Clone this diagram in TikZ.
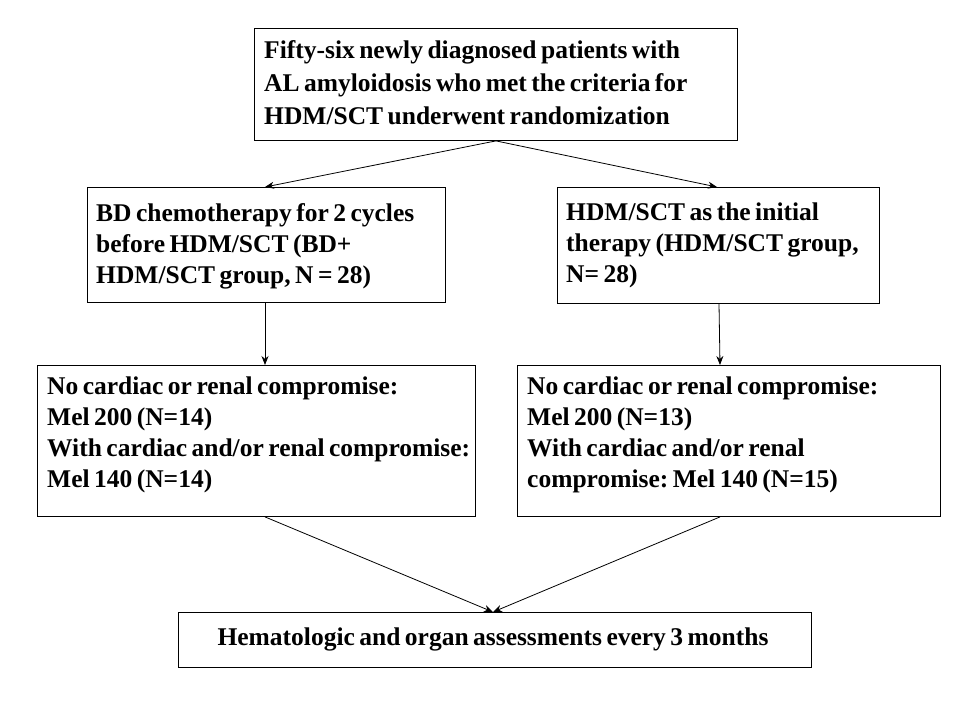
\documentclass[tikz,border=0pt]{standalone}
\usepackage{fontspec}
\setmainfont{Liberation Serif}[WordSpace=0.7]
\usetikzlibrary{arrows.meta}
\frenchspacing
\begin{document}
\begin{tikzpicture}[x=1pt,y=-1pt,
  box/.style={draw, line width=0.9pt, inner sep=0pt, anchor=north west},
  txt/.style={anchor=north west, inner sep=0pt, align=left, font=\fontsize{25.5}{31}\selectfont\bfseries},
  arr/.style={-{Stealth[length=9pt,width=7pt]}, line width=0.8pt}]
\useasboundingbox[fill=white] (0,0) rectangle (960,720);
% boxes
\node[box, minimum width=483pt, minimum height=112pt] (top) at (254,28) {};
\node[box, minimum width=358pt, minimum height=115pt] (lm) at (87,187) {};
\node[box, minimum width=322pt, minimum height=116pt] (rm) at (557,187) {};
\node[box, minimum width=438pt, minimum height=151pt] (ll) at (37,365) {};
\node[box, minimum width=423pt, minimum height=151pt] (rl) at (517,365) {};
\node[box, minimum width=633pt, minimum height=55pt] (bot) at (178,612) {};
% texts
\node[txt, font=\fontsize{25.5}{33}\selectfont\bfseries] (ttop) at (264,40) {Fifty-six newly diagnosed patients with\\AL amyloidosis who met the criteria for\\HDM/SCT underwent randomization};
\node[txt] (tlm) at (96,203) {BD chemotherapy for 2 cycles\\before HDM/SCT (BD+\\HDM/SCT group, N = 28)};
\node[txt] (trm) at (566,203) {HDM/SCT as the initial\\therapy (HDM/SCT group,\\N= 28)};
\node[txt] (tll) at (47,377) {No cardiac or renal compromise:\\Mel 200 (N=14)\\With cardiac and/or renal compromise:\\Mel 140 (N=14)};
\node[txt] (trl) at (527,377) {No cardiac or renal compromise:\\Mel 200 (N=13)\\With cardiac and/or renal\\compromise: Mel 140 (N=15)};
\node[anchor=center, inner sep=0pt, font=\fontsize{25.5}{31}\selectfont\bfseries] (tbot) at (493,639) {Hematologic and organ assessments every 3 months};
% connectors
\draw[arr] (top.south) -- (lm.north -| 265,0);
\draw[arr] (top.south) -- (rm.north -| 717,0);
\draw[arr] (lm.south -| 265,0) -- (ll.north -| 265,0);
\draw[arr] (rm.south -| 719,0) -- (rl.north -| 720,0);
\draw[arr] (ll.south -| 265,0) -- (bot.north -| 493,0);
\draw[arr] (rl.south -| 720,0) -- (bot.north -| 493,0);
\end{tikzpicture}
\end{document}
